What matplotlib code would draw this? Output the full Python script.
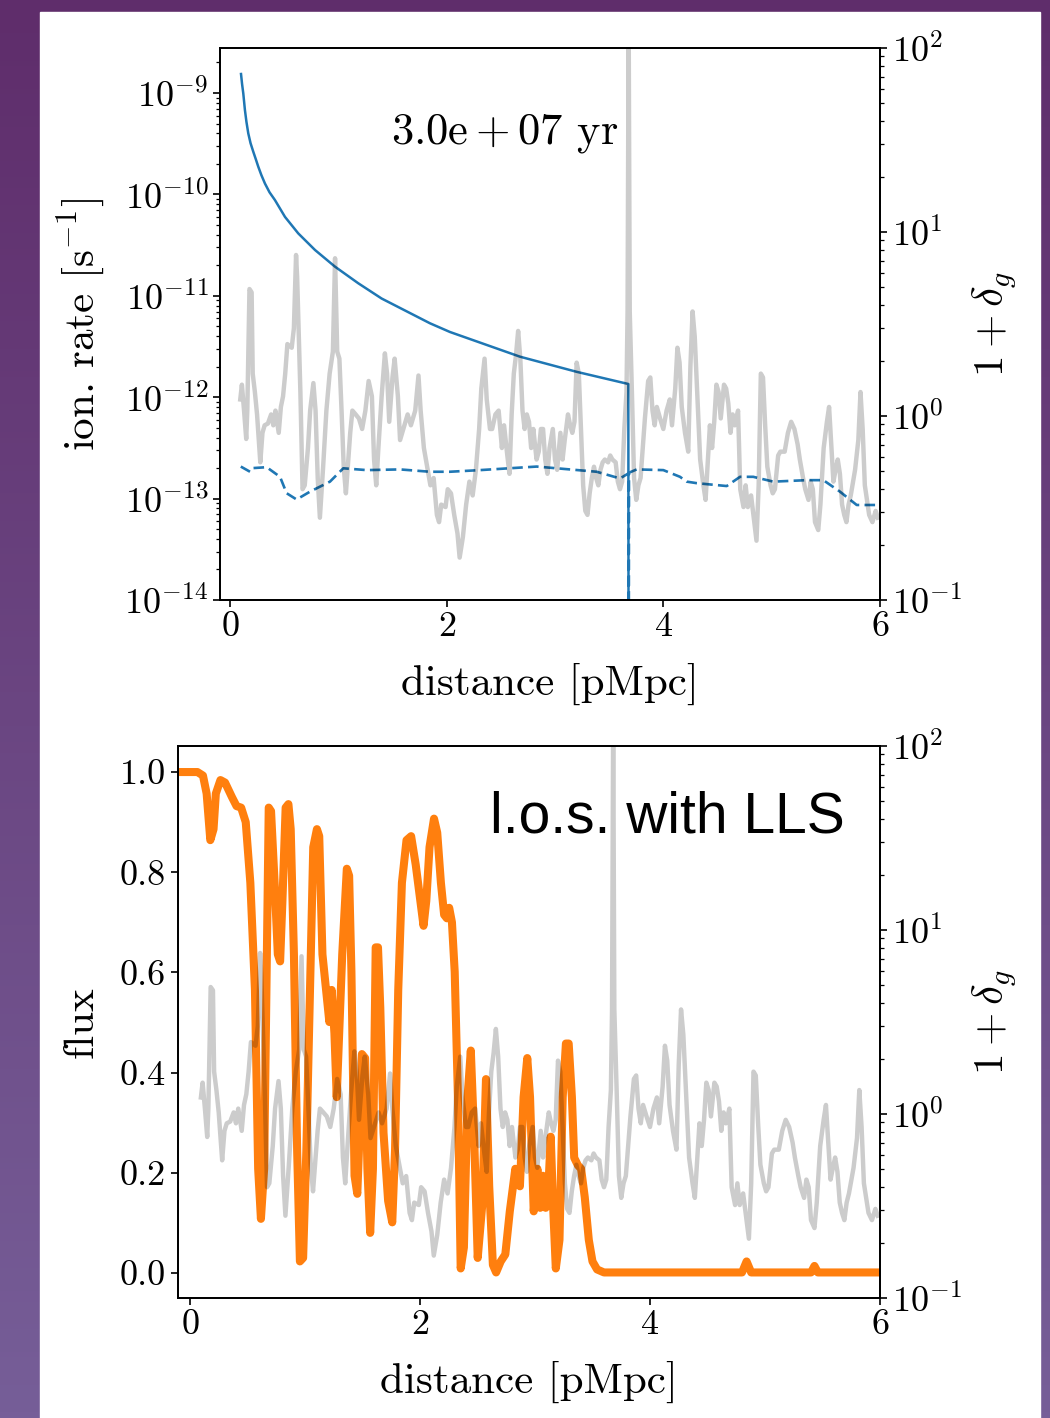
import numpy as np
import matplotlib
matplotlib.use("Agg")
import matplotlib.pyplot as plt
from matplotlib.patches import Rectangle
from matplotlib.ticker import FormatStrFormatter, LogLocator, NullFormatter

plt.rcParams['font.family'] = 'serif'
plt.rcParams['font.serif'] = ['cmr10']
plt.rcParams['mathtext.fontset'] = 'cm'
plt.rcParams['axes.formatter.use_mathtext'] = True
plt.rcParams['axes.unicode_minus'] = False
plt.rcParams['axes.linewidth'] = 1.3
plt.rcParams['xtick.major.size'] = 5
plt.rcParams['ytick.major.size'] = 5
plt.rcParams['xtick.major.width'] = 1.2
plt.rcParams['ytick.major.width'] = 1.2
plt.rcParams['ytick.minor.size'] = 3
plt.rcParams['ytick.minor.width'] = 0.9

# 1 + delta_g along the sightline (same in both panels)
dens_x = [0.095, 0.11, 0.13, 0.15, 0.16, 0.18, 0.20, 0.21, 0.23, 0.25,
          0.28, 0.30, 0.32, 0.35, 0.38, 0.40, 0.42, 0.45, 0.47, 0.49,
          0.51, 0.53, 0.57, 0.59, 0.61, 0.62, 0.65, 0.67, 0.69, 0.72,
          0.74, 0.77, 0.79, 0.81, 0.83, 0.86, 0.89, 0.92, 0.95, 0.97,
          0.99, 1.01, 1.03, 1.05, 1.07, 1.09, 1.11, 1.13, 1.16, 1.19,
          1.22, 1.25, 1.28, 1.31, 1.33, 1.35, 1.37, 1.40, 1.43, 1.45,
          1.47, 1.50, 1.52, 1.55, 1.57, 1.59, 1.62, 1.64, 1.67, 1.71,
          1.74, 1.76, 1.79, 1.82, 1.85, 1.88, 1.91, 1.93, 1.95, 1.99,
          2.01, 2.04, 2.07, 2.10, 2.12, 2.15, 2.18, 2.21, 2.24, 2.27,
          2.30, 2.32, 2.35, 2.37, 2.40, 2.42, 2.45, 2.48, 2.51, 2.53,
          2.56, 2.58, 2.60, 2.62, 2.64, 2.66, 2.68, 2.70, 2.72, 2.74,
          2.76, 2.78, 2.80, 2.83, 2.85, 2.87, 2.89, 2.91, 2.93, 2.95,
          2.98, 3.00, 3.02, 3.05, 3.07, 3.09, 3.12, 3.14, 3.16, 3.18,
          3.20, 3.22, 3.24, 3.26, 3.28, 3.30, 3.32, 3.34, 3.36, 3.38,
          3.40, 3.42, 3.44, 3.46, 3.49, 3.51, 3.53, 3.56, 3.58, 3.60,
          3.62, 3.64, 3.66, 3.67, 3.68, 3.69, 3.71, 3.73, 3.75, 3.77,
          3.79, 3.81, 3.83, 3.86, 3.88, 3.90, 3.92, 3.94, 3.97, 4.00,
          4.03, 4.06, 4.08, 4.11, 4.13, 4.15, 4.17, 4.20, 4.23, 4.25,
          4.27, 4.29, 4.32, 4.34, 4.37, 4.39, 4.41, 4.43, 4.45, 4.47,
          4.49, 4.51, 4.53, 4.56, 4.58, 4.60, 4.62, 4.64, 4.66, 4.69,
          4.71, 4.74, 4.76, 4.78, 4.81, 4.84, 4.86, 4.88, 4.90, 4.92,
          4.94, 4.96, 4.99, 5.01, 5.03, 5.06, 5.08, 5.12, 5.15, 5.18,
          5.21, 5.24, 5.26, 5.29, 5.31, 5.34, 5.36, 5.38, 5.40, 5.43,
          5.45, 5.48, 5.51, 5.53, 5.55, 5.57, 5.59, 5.61, 5.63, 5.65,
          5.67, 5.69, 5.71, 5.73, 5.77, 5.80, 5.82, 5.84, 5.86, 5.90,
          5.93, 5.96, 5.98]
dens_v = [1.23, 1.48, 1.07, 0.75, 1.07, 4.9, 4.7, 1.70, 1.35, 1.02,
          0.56, 0.81, 0.89, 0.91, 1.02, 0.89, 1.07, 0.81, 1.12, 1.28,
          1.70, 2.46, 2.35, 3.0, 7.5, 5.7, 1.35, 0.40, 0.42, 0.67,
          1.07, 1.51, 1.07, 0.46, 0.28, 0.53, 1.07, 1.70, 2.24, 7.2,
          2.24, 2.05, 1.07, 0.53, 0.38, 0.56, 0.81, 1.07, 1.02, 0.97,
          0.85, 1.07, 1.55, 1.28, 0.58, 0.42, 0.67, 1.28, 2.19, 1.70,
          0.93, 1.62, 2.05, 1.28, 0.74, 0.81, 0.93, 1.02, 0.89, 1.07,
          1.66, 1.07, 0.67, 0.53, 0.42, 0.46, 0.29, 0.265, 0.33, 0.32,
          0.40, 0.38, 0.29, 0.23, 0.17, 0.22, 0.33, 0.44, 0.37, 0.51,
          0.85, 1.41, 2.05, 1.23, 0.85, 0.85, 1.02, 1.07, 0.67, 0.89,
          0.61, 0.485, 1.02, 1.70, 2.14, 2.9, 2.05, 1.07, 0.85, 1.02,
          0.93, 0.67, 0.85, 0.58, 0.64, 0.85, 0.85, 0.58, 0.485, 0.67,
          0.85, 0.58, 0.51, 0.81, 0.58, 0.74, 1.02, 0.89, 0.81, 0.93,
          1.95, 1.70, 0.85, 0.42, 0.305, 0.29, 0.38, 0.46, 0.53, 0.46,
          0.42, 0.51, 0.56, 0.58, 0.56, 0.61, 0.58, 0.56, 0.44, 0.40,
          0.44, 0.85, 1.35, 3.7, 150.0, 3.7, 1.35, 0.46, 0.35, 0.42,
          0.46, 0.67, 0.97, 1.55, 1.62, 1.07, 0.89, 1.12, 0.97, 0.85,
          1.07, 1.23, 0.89, 1.41, 2.35, 1.95, 1.12, 0.81, 0.64, 1.86,
          3.7, 2.7, 1.07, 0.58, 0.42, 0.35, 0.56, 0.89, 0.67, 0.93,
          1.48, 1.35, 0.97, 1.48, 1.41, 1.17, 0.81, 1.02, 0.89, 1.07,
          0.40, 0.32, 0.42, 0.32, 0.37, 0.265, 0.21, 0.42, 1.70, 1.62,
          0.89, 0.53, 0.42, 0.38, 0.40, 0.61, 0.64, 0.64, 0.81, 0.93,
          0.85, 0.70, 0.58, 0.46, 0.40, 0.35, 0.44, 0.40, 0.265, 0.24,
          0.33, 0.67, 0.93, 1.12, 0.70, 0.44, 0.51, 0.58, 0.485, 0.33,
          0.29, 0.265, 0.33, 0.37, 0.51, 0.74, 1.35, 0.85, 0.42, 0.29,
          0.265, 0.305, 0.28]

# ionisation rate, solid curve [s^-1]
ion_x = [0.102, 0.112, 0.123, 0.138, 0.152, 0.169, 0.190, 0.215, 0.240, 0.261,
         0.290, 0.323, 0.365, 0.415, 0.508, 0.63, 0.785, 0.969, 1.184, 1.40,
         1.846, 2.03, 2.677, 3.20, 3.677, 3.68]
ion_v = [1.54e-9, 1.22e-9, 9.9e-10, 6.8e-10, 5.2e-10, 4.0e-10, 3.2e-10,
         2.64e-10, 2.2e-10, 1.88e-10, 1.55e-10, 1.28e-10, 1.05e-10, 8.8e-11,
         6.0e-11, 4.13e-11, 2.83e-11, 1.94e-11, 1.33e-11, 9.4e-12,
         5.36e-12, 4.40e-12, 2.51e-12, 1.78e-12, 1.35e-12, 1e-16]

# ionisation rate, dashed curve [s^-1]
ion2_x = [0.10, 0.185, 0.213, 0.339, 0.462, 0.523, 0.615, 0.738, 0.923, 1.046,
          1.262, 1.57, 1.846, 2.03, 2.308, 2.831, 3.385, 3.60, 3.677, 3.68,
          3.683, 3.754, 4.0, 4.154, 4.216, 4.308, 4.585, 4.708, 4.83, 5.015,
          5.323, 5.477, 5.631, 5.785, 5.97]
ion2_v = [2.07e-13, 1.84e-13, 2.0e-13, 2.04e-13, 1.64e-13, 1.13e-13, 9.8e-14,
          1.17e-13, 1.47e-13, 1.99e-13, 1.91e-13, 1.94e-13, 1.84e-13, 1.84e-13,
          1.91e-13, 2.07e-13, 1.84e-13, 1.58e-13, 1.77e-13, 1e-16, 1.8e-13,
          1.94e-13, 1.91e-13, 1.64e-13, 1.47e-13, 1.42e-13, 1.33e-13, 1.64e-13,
          1.64e-13, 1.47e-13, 1.52e-13, 1.52e-13, 1.17e-13, 8.65e-14, 8.65e-14]

# transmitted flux
flux_x = [-0.10, 0.065, 0.113, 0.145, 0.177, 0.205, 0.225, 0.265, 0.305, 0.365,
          0.405, 0.445, 0.485, 0.525, 0.565, 0.593, 0.617, 0.645, 0.665, 0.685,
          0.705, 0.736, 0.764, 0.784, 0.804, 0.832, 0.856, 0.876, 0.904, 0.932,
          0.956, 0.984, 1.012, 1.044, 1.072, 1.104, 1.124, 1.152, 1.184, 1.212,
          1.232, 1.256, 1.276, 1.296, 1.324, 1.364, 1.384, 1.404, 1.431, 1.455,
          1.475, 1.495, 1.523, 1.543, 1.567, 1.591, 1.615, 1.635, 1.655, 1.683,
          1.723, 1.759, 1.783, 1.811, 1.843, 1.883, 1.923, 1.963, 2.003, 2.031,
          2.055, 2.083, 2.122, 2.150, 2.182, 2.210, 2.234, 2.254, 2.278, 2.302,
          2.330, 2.354, 2.382, 2.414, 2.442, 2.470, 2.502, 2.542, 2.574, 2.602,
          2.634, 2.662, 2.702, 2.742, 2.781, 2.829, 2.869, 2.901, 2.933, 2.957,
          2.989, 3.021, 3.045, 3.069, 3.093, 3.117, 3.137, 3.157, 3.181, 3.213,
          3.241, 3.269, 3.293, 3.321, 3.341, 3.373, 3.401, 3.433, 3.468, 3.500,
          3.540, 3.600, 4.80, 4.84, 4.88, 5.40, 5.43, 5.46, 6.0]
flux_v = [1.0, 1.0, 0.993, 0.957, 0.864, 0.886, 0.957, 0.984, 0.979, 0.950,
          0.932, 0.929, 0.900, 0.779, 0.565, 0.208, 0.108, 0.208, 0.565, 0.929,
          0.922, 0.779, 0.636, 0.622, 0.743, 0.929, 0.936, 0.886, 0.636, 0.244,
          0.023, 0.030, 0.244, 0.565, 0.850, 0.886, 0.872, 0.636, 0.565, 0.501,
          0.565, 0.479, 0.351, 0.472, 0.636, 0.807, 0.793, 0.601, 0.194, 0.158,
          0.280, 0.437, 0.429, 0.208, 0.080, 0.208, 0.650, 0.650, 0.529, 0.280,
          0.144, 0.101, 0.244, 0.565, 0.779, 0.864, 0.872, 0.815, 0.743, 0.693,
          0.743, 0.850, 0.907, 0.879, 0.779, 0.715, 0.708, 0.729, 0.700, 0.601,
          0.351, 0.009, 0.051, 0.351, 0.444, 0.280, 0.030, 0.137, 0.387, 0.173,
          0.016, 0.001, 0.023, 0.037, 0.123, 0.208, 0.173, 0.351, 0.429, 0.351,
          0.123, 0.208, 0.130, 0.194, 0.130, 0.173, 0.272, 0.137, 0.009, 0.066,
          0.351, 0.458, 0.458, 0.351, 0.230, 0.215, 0.208, 0.151, 0.066, 0.023,
          0.007, 0.001, 0.001, 0.023, 0.001, 0.001, 0.014, 0.001, 0.001]

age_label = r'$\mathrm{3.0e+07}$ yr'
panel_label = 'l.o.s. with LLS'
xticks = [0, 2, 4, 6]
flux_ticks = [0.0, 0.2, 0.4, 0.6, 0.8, 1.0]

W, H = 1050, 1418
fig = plt.figure(figsize=(W / 100, H / 100), dpi=100)

# purple slide background with white card
bg = fig.add_axes([0, 0, 1, 1], zorder=-10)
top_c = np.array([95, 45, 107]) / 255
bot_c = np.array([118, 94, 152]) / 255
t = np.linspace(0, 1, 256)[:, None]
grad = (top_c[None, :] * (1 - t) + bot_c[None, :] * t)[:, None, :]
bg.imshow(grad, extent=[0, 1, 0, 1], aspect='auto', origin='upper')
bg.add_patch(Rectangle((40 / W, 0), 1000 / W, 1 - 12 / H, color='white',
                       transform=bg.transAxes))
bg.set_xlim(0, 1)
bg.set_ylim(0, 1)
bg.axis('off')

lab_fs = 31
tick_fs = 26
gray_kw = dict(color='k', alpha=0.2, lw=3.2)


def log_minor(ax):
    ax.yaxis.set_minor_locator(LogLocator(base=10, subs=np.arange(2, 10), numticks=30))
    ax.yaxis.set_minor_formatter(NullFormatter())


# top panel
ax1 = fig.add_axes([220 / W, 1 - 600 / H, 660 / W, 552 / H])
ax1.plot(ion_x, ion_v, color='#1f77b4', lw=1.8)
ax1.plot(ion2_x, ion2_v, color='#1f77b4', lw=1.9, ls='--', dashes=(4, 2))
ax1.set_yscale('log')
ax1.set_ylim(1e-14, 10 ** -8.556)
ax1.set_xlim(-0.092, 6)
ax1.set_xticks(xticks)
log_minor(ax1)
ax1.set_xlabel('distance [pMpc]', fontsize=lab_fs, labelpad=14)
ax1.set_ylabel(r'ion. rate [$\mathrm{s}^{-1}$]', fontsize=lab_fs, labelpad=12)
ax1.tick_params(labelsize=tick_fs)
ax1.text(0.432, 0.846, age_label, transform=ax1.transAxes, fontsize=32,
         ha='center', va='center')

ax1r = ax1.twinx()
ax1r.plot(dens_x, dens_v, **gray_kw)
ax1r.set_yscale('log')
ax1r.set_ylim(0.1, 100)
log_minor(ax1r)
ax1r.set_ylabel(r'$1+\delta_g$', fontsize=lab_fs, labelpad=6)
ax1r.tick_params(labelsize=tick_fs)

# bottom panel
ax2 = fig.add_axes([178 / W, 1 - 1298 / H, 702 / W, 552 / H])
ax2.plot(flux_x, flux_v, color='#ff7f0e', lw=5.8, solid_joinstyle='round')
ax2.set_xlim(-0.104, 6)
ax2.set_ylim(-0.05, 1.052)
ax2.set_xticks(xticks)
ax2.set_yticks(flux_ticks)
ax2.yaxis.set_major_formatter(FormatStrFormatter('%.1f'))
ax2.set_xlabel('distance [pMpc]', fontsize=lab_fs, labelpad=14)
ax2.set_ylabel('flux', fontsize=lab_fs, labelpad=14)
ax2.tick_params(labelsize=tick_fs)
ax2.text(0.95, 0.844, panel_label, transform=ax2.transAxes, fontsize=41,
         ha='right', va='baseline', family=['Liberation Sans', 'DejaVu Sans'])

ax2r = ax2.twinx()
ax2r.plot(dens_x, dens_v, **gray_kw)
ax2r.set_yscale('log')
ax2r.set_ylim(0.1, 100)
log_minor(ax2r)
ax2r.set_ylabel(r'$1+\delta_g$', fontsize=lab_fs, labelpad=6)
ax2r.tick_params(labelsize=tick_fs)

fig.savefig('out.png', dpi=100)
